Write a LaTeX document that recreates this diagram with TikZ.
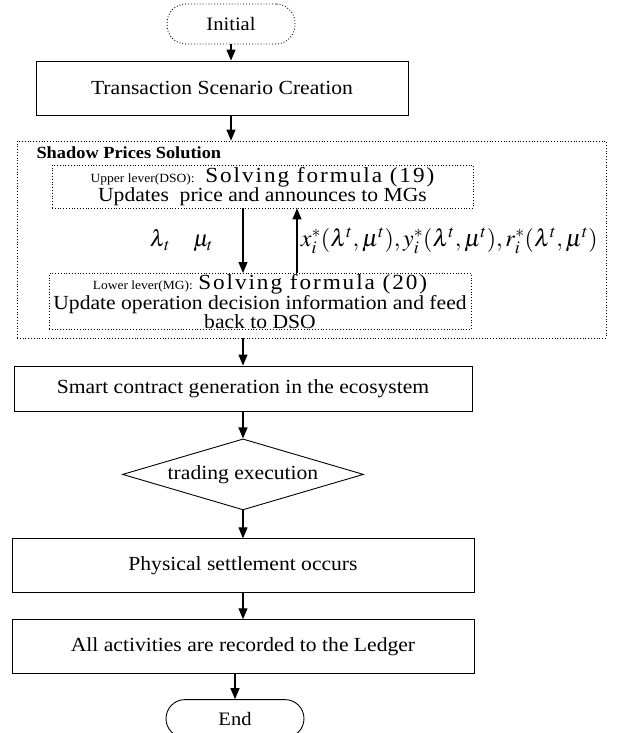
\documentclass[tikz,border=0pt]{standalone}
\usepackage{mathptmx}
\usepackage[no-math]{fontspec}
\setmainfont[FakeStretch=1.08]{Liberation Serif}
\newfontfamily\widefont[FakeStretch=1.08, LetterSpace=9]{Liberation Serif}
\usepackage{tikz}
\usetikzlibrary{arrows.meta,positioning,shapes.geometric}

\begin{document}
\begin{tikzpicture}[x=1pt, y=-1pt,
  proc/.style={draw, line width=0.9pt, align=center, inner sep=2pt, font=\fontsize{20}{22}\selectfont},
  dotbox/.style={draw, dotted, line width=0.8pt, align=center, inner sep=1pt, font=\fontsize{20}{17.5}\selectfont},
  term/.style={draw, line width=0.9pt, rounded corners=19pt, minimum width=138pt, minimum height=38pt, font=\fontsize{19}{21}\selectfont},
  arr/.style={-{Triangle[length=11pt, width=9pt]}, line width=1.1pt}
]
  \useasboundingbox (0,0) rectangle (616,733);

  \node[term, dotted, minimum width=128pt, minimum height=40pt] (init) at (231,24) {Initial};
  \node[proc, minimum width=372pt, minimum height=54pt] (scene) at (222,88) {Transaction Scenario Creation};

  % shadow prices block
  \node[draw, dotted, line width=0.8pt, minimum width=589pt, minimum height=197pt] (shadow) at (311.5,239.5) {};
  \node[anchor=west, font=\fontsize{17}{19}\selectfont\bfseries] (title) at (33,153) {Shadow Prices Solution};
  \node[dotbox, minimum width=421pt, minimum height=43pt] (upper) at (262.5,186.5)
    {{\fontsize{12.5}{15}\selectfont Upper lever(DSO):} \ {\fontsize{21.5}{17.5}\widefont Solving formula (19)}\\Updates \ price and announces to MGs};
  \node[dotbox, minimum width=422pt, minimum height=53pt] (lower) at (260,301.5)
    {{\fontsize{12.5}{15}\selectfont Lower lever(MG):} {\fontsize{21.5}{17.5}\widefont Solving formula (20)}\\Update operation decision information and feed\\back to DSO};

  \node[proc, minimum width=458pt, minimum height=45pt] (contract) at (243,388.5) {Smart contract generation in the ecosystem};
  \node[draw, diamond, line width=0.9pt, aspect=3.4, inner sep=0pt, minimum width=241pt, minimum height=71pt,
    font=\fontsize{20}{22}\selectfont, below=27pt of contract] (trade) {trading execution};
  \node[proc, minimum width=462pt, minimum height=54pt, below=28pt of trade] (settle) {Physical settlement occurs};
  \node[proc, minimum width=462pt, minimum height=54pt, below=26pt of settle] (ledger) {All activities are recorded to the Ledger};
  \node[term, below=25pt of ledger, xshift=-8pt] (stop) {End};

  \coordinate (fb) at (297,240);

  \draw[arr] (init.south) -- (init.south |- scene.north);
  \draw[arr] (scene.south -| init.south) -- (init.south |- shadow.north);
  \draw[arr] (upper.south -| contract.north) -- node[left=26pt, font=\fontsize{23}{25}\selectfont] {$\lambda_{\,t}\quad\mu_t$} (lower.north -| contract.north);
  \draw[arr] (lower.north -| fb) -- node[right=0pt, font=\fontsize{24}{26}\selectfont] {$x_i^*(\lambda^t,\mu^t),y_i^*(\lambda^t,\mu^t),r_i^*(\lambda^t,\mu^t)$} (upper.south -| fb);
  \draw[arr] (contract.north |- shadow.south) -- (contract.north);
  \draw[arr] (contract) -- (trade);
  \draw[arr] (trade) -- (settle);
  \draw[arr] (settle) -- (ledger);
  \draw[arr] (ledger.south -| stop.north) -- (stop.north);
\end{tikzpicture}
\end{document}
